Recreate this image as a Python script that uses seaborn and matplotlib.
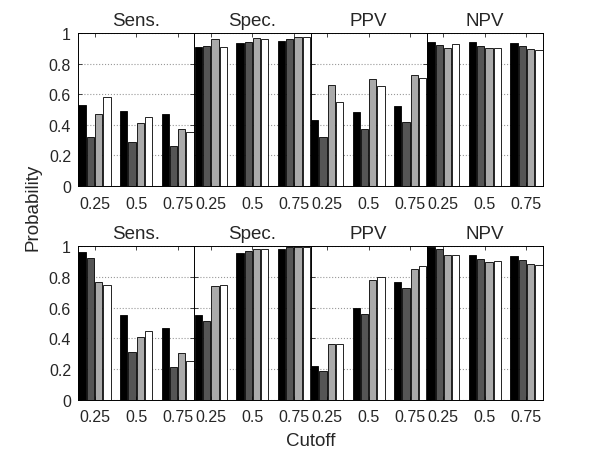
import numpy as np
import pandas as pd
import seaborn as sns
import matplotlib
matplotlib.use('Agg')
import matplotlib.pyplot as plt

cutoffs = ['0.25', '0.5', '0.75']
metrics = ['Sens.', 'Spec.', 'PPV', 'NPV']
series = ['s1', 's2', 's3', 's4']
bar_colors = ['#000000', '#555555', '#aaaaaa', '#ffffff']

# values per cutoff: [black, dark gray, light gray, white]
top_sens = [[0.53, 0.32, 0.47, 0.58], [0.49, 0.29, 0.41, 0.45], [0.47, 0.26, 0.37, 0.355]]
top_spec = [[0.91, 0.915, 0.96, 0.91], [0.935, 0.94, 0.97, 0.96], [0.95, 0.96, 0.975, 0.975]]
top_ppv = [[0.43, 0.32, 0.66, 0.55], [0.485, 0.37, 0.70, 0.655], [0.52, 0.42, 0.725, 0.705]]
top_npv = [[0.94, 0.92, 0.905, 0.925], [0.94, 0.915, 0.90, 0.905], [0.935, 0.915, 0.895, 0.89]]

bot_sens = [[0.96, 0.925, 0.765, 0.75], [0.555, 0.31, 0.41, 0.45], [0.465, 0.21, 0.305, 0.255]]
bot_spec = [[0.55, 0.51, 0.74, 0.745], [0.955, 0.97, 0.98, 0.98], [0.985, 0.998, 0.998, 0.998]]
bot_ppv = [[0.22, 0.19, 0.36, 0.36], [0.60, 0.56, 0.78, 0.80], [0.77, 0.73, 0.85, 0.87]]
bot_npv = [[0.995, 0.985, 0.945, 0.94], [0.945, 0.92, 0.895, 0.905], [0.935, 0.91, 0.885, 0.875]]

rows = [[top_sens, top_spec, top_ppv, top_npv],
        [bot_sens, bot_spec, bot_ppv, bot_npv]]

sns.set_style('ticks')
plt.rcParams['font.family'] = ['Liberation Sans', 'DejaVu Sans']

fig = plt.figure(figsize=(6, 4.52), dpi=100)
row_box = [(0.5863, 0.9248), (0.1135, 0.4529)]
left, right = 0.13, 0.905
pw = (right - left) / 4

for r in range(2):
    b, t = row_box[r]
    for m in range(4):
        ax = fig.add_axes([left + m * pw, b, pw, t - b])
        vals = rows[r][m]
        df = pd.DataFrame({
            'cutoff': np.repeat(cutoffs, 4),
            'series': series * 3,
            'value': np.array(vals).ravel(),
        })
        sns.barplot(data=df, x='cutoff', y='value', hue='series',
                    palette=bar_colors, edgecolor='black', linewidth=0.6,
                    width=0.8, gap=0.12, legend=False, ax=ax)
        ax.set_xlim(-0.4, 2.4)
        ax.set_ylim(0, 1)
        ax.set_yticks([0, 0.2, 0.4, 0.6, 0.8, 1])
        ax.yaxis.grid(True, linestyle=':', color='#999999', linewidth=0.8)
        ax.set_axisbelow(True)
        ax.set_xlabel('')
        ax.set_ylabel('')
        ax.tick_params(direction='in', top=True, right=True, length=3,
                       width=0.6, labelsize=11.5, pad=5)
        ax.tick_params(axis='x', pad=7)
        if m == 0:
            ax.set_yticklabels(['0', '0.2', '0.4', '0.6', '0.8', '1'])
        else:
            ax.set_yticklabels([])
        for s in ax.spines.values():
            s.set_visible(True)
            s.set_linewidth(0.7)
            s.set_color('black')
        ax.set_title(metrics[m], fontsize=13.5, pad=6)

fig.text(0.055, 0.542, 'Probability', rotation=90, ha='center', va='center', fontsize=13.5)
fig.text(0.5175, 0.024, 'Cutoff', ha='center', va='center', fontsize=13.5)

plt.savefig('out.png', dpi=100)
